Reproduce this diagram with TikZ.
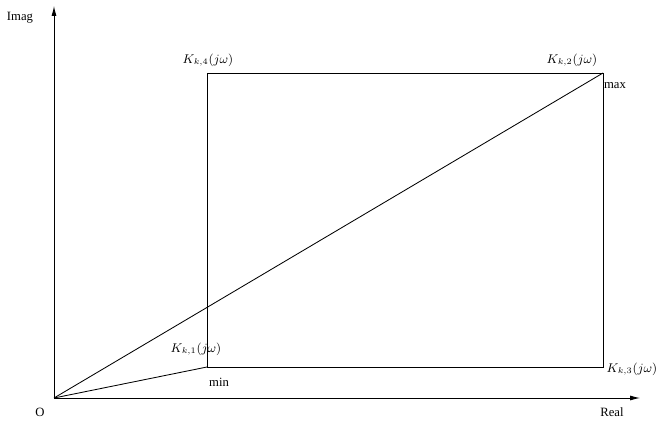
\documentclass[tikz,border=0pt]{standalone}
\usepackage{fontspec}
\setmainfont{Liberation Serif}
\usetikzlibrary{arrows.meta}
\begin{document}
\begin{tikzpicture}[x=0.025cm,y=-0.025cm,font=\small,line width=0.6pt]
    \useasboundingbox (0,0) rectangle (662,425);
    \coordinate (O) at (54,398);
    \coordinate (ytip) at (54,6);
    \coordinate (xtip) at (640,398);
    \coordinate (K1) at (207,367);
    \coordinate (K2) at (603,73);
    \coordinate (K3) at (603,367);
    \coordinate (K4) at (207,73);
    \draw[-{Latex[length=7pt,width=3.5pt]}] (O) -- (ytip);
    \draw[-{Latex[length=7pt,width=3.5pt]}] (O) -- (xtip);
    \draw (K1) -- (K4) -- (K2) -- (K3) -- (K1);
    \draw (O) -- (K2);
    \draw (O) -- (K1);
    \node (imag) at (20,18) {Imag};
    \node (real) at (612,412) {Real};
    \node (o) at (40,412) {O};
    \node (min) at (219,382) {min};
    \node (max) at (615,86) {max};
    \node (k1) at (196,349) {$K_{k,1}(j\omega)$};
    \node (k2) at (572,60) {$K_{k,2}(j\omega)$};
    \node (k3) at (632,369) {$K_{k,3}(j\omega)$};
    \node (k4) at (208,60) {$K_{k,4}(j\omega)$};
\end{tikzpicture}
\end{document}
